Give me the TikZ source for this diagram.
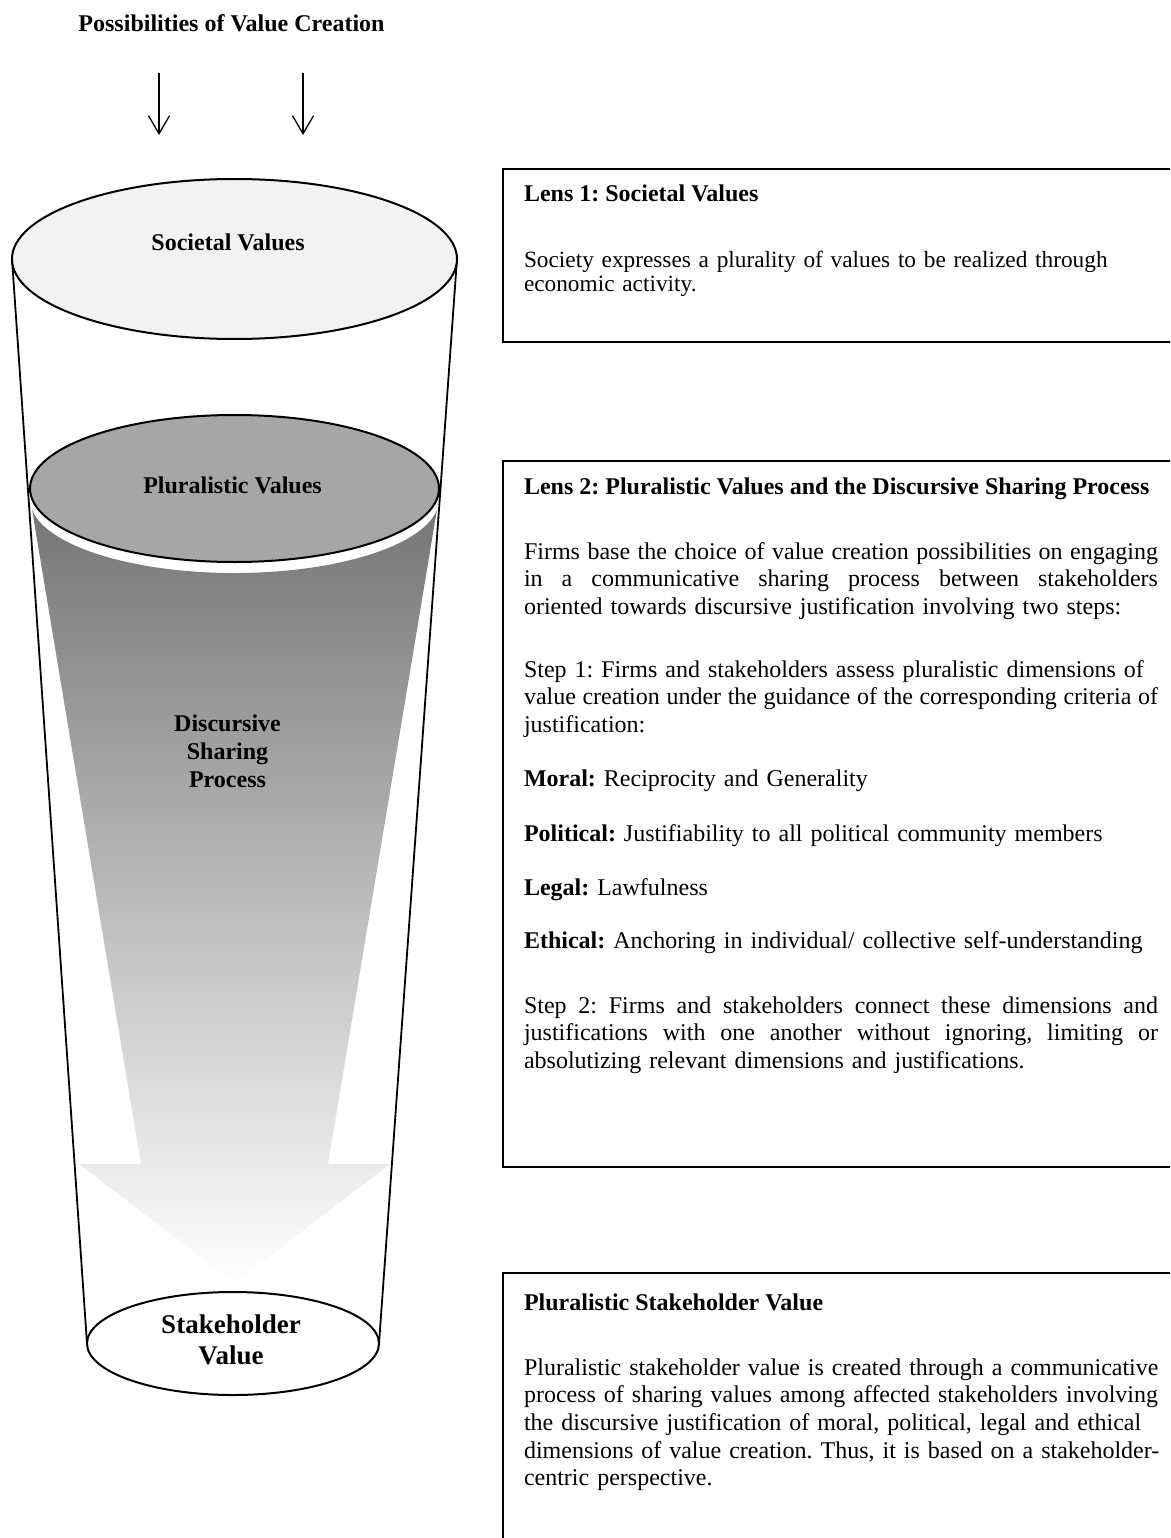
\documentclass[tikz,border=0pt]{standalone}
\usepackage{fontspec}
\setmainfont{Liberation Serif}
\usetikzlibrary{arrows.meta}
\definecolor{capgray}{HTML}{F2F2F2}
\definecolor{midgray}{HTML}{A6A6A6}
\definecolor{deepgray}{HTML}{767676}
% a line stretched (or squeezed) to the full paragraph width
\newcommand\fillline[1]{\makebox[634pt][s]{\spaceskip=0.25em plus 1em minus 0.12em\relax #1}}
\frenchspacing
\begin{document}
\begin{tikzpicture}[x=1pt,y=-1pt,
  every node/.style={inner sep=0pt, outer sep=0pt},
  tag/.style={font=\fontsize{24}{28}\selectfont\bfseries, align=center},
  inflow/.style={line width=1.3pt, -{Straight Barb[length=18pt,width=21pt]}},
  rim/.style={line width=2pt},
  wall/.style={line width=1.8pt},
  lensbox/.style={draw, line width=2pt, rectangle},
  head/.style={anchor=base west, font=\fontsize{24}{27.5}\selectfont\bfseries},
  para/.style={anchor=base west, align=left, text width=700pt, font=\fontsize{24}{27.5}\selectfont},
]
\useasboundingbox (0,0) rectangle (1170,1538);
\clip (0,0) rectangle (1170,1538);

% incoming possibilities
\node[tag] (title) at (231.5,23) {Possibilities of Value Creation};
\coordinate (inA) at (159,73);  \coordinate (outA) at (159,135);
\coordinate (inB) at (303,73);  \coordinate (outB) at (303,135);
\draw[inflow] (inA) -- (outA);
\draw[inflow] (inB) -- (outB);

% walls of the funnel
\coordinate (topL) at (12,259);   \coordinate (topR) at (457,259);
\coordinate (botL) at (87,1343.5); \coordinate (botR) at (379,1343.5);
\draw[wall] (topL) -- (botL);
\draw[wall] (topR) -- (botR);

% shaded downward arrow inside the funnel
\shade[top color=deepgray, bottom color=white]
  (32.1,510) arc[start angle=171.8, end angle=8.2, x radius=204.5, y radius=73.5]
  -- (328,1164) -- (390,1164) -- (234.5,1283) -- (79,1164) -- (141,1164) -- cycle;

% the three discs
\draw[rim, fill=capgray] (234.5,259) ellipse [x radius=222.5, y radius=80];
\draw[rim, fill=midgray] (234.5,488.5) ellipse [x radius=204.5, y radius=73.5];
\draw[rim, fill=white] (233,1343.5) ellipse [x radius=146, y radius=51.5];

\node[tag] (societal) at (228,242) {Societal Values};
\node[tag] (pluralistic) at (232.5,485) {Pluralistic Values};
\node[tag] (discursive) at (227.5,751) {Discursive\\Sharing\\Process};
\node[font=\fontsize{27}{31}\selectfont\bfseries, align=center] (stake) at (231,1339.5) {Stakeholder\\Value};

% lens boxes
\node[lensbox, minimum width=682pt, minimum height=173pt] (lens1) at (844,255.5) {};
\node[lensbox, minimum width=682pt, minimum height=706pt] (lens2) at (844,813.7) {};
\node[lensbox, minimum width=682pt, minimum height=272pt] (lens3) at (844,1409.3) {};

\node[head] (lens1head) at (524,202) {Lens 1: Societal Values};
\node[para, font=\fontsize{23.3}{24.5}\selectfont] (lens1text) at (524,267)
  {Society expresses a plurality of values to be realized through\\economic activity.};

\node[head] (lens2head) at (524,494) {Lens 2: Pluralistic Values and the Discursive Sharing Process};
\node[para] (intro) at (524,559)
  {\fillline{Firms base the choice of value creation possibilities on engaging}\\
   \fillline{in a communicative sharing process between stakeholders}\\
   oriented towards discursive justification involving two steps:};
\node[para] (stepone) at (524,677)
  {Step 1: Firms and stakeholders assess pluralistic dimensions of\\
   \fillline{value creation under the guidance of the corresponding criteria of}\\
   justification:};
\node[para] (moral) at (524,786) {\textbf{Moral:} Reciprocity and Generality};
\node[para] (political) at (524,841) {\textbf{Political:} Justifiability to all political community members};
\node[para] (legal) at (524,895) {\textbf{Legal:} Lawfulness};
\node[para] (ethical) at (524,948) {\textbf{Ethical:} Anchoring in individual/ collective self-understanding};
\node[para] (steptwo) at (524,1013)
  {\fillline{Step 2: Firms and stakeholders connect these dimensions and}\\
   \fillline{justifications with one another without ignoring, limiting or}\\
   absolutizing relevant dimensions and justifications.};

\node[head] (lens3head) at (524,1310) {Pluralistic Stakeholder Value};
\node[para, font=\fontsize{24}{27.7}\selectfont] (lens3text) at (524,1375)
  {Pluralistic stakeholder value is created through a communicative\\
   process of sharing values among affected stakeholders involving\\
   the discursive justification of moral, political, legal and ethical\\
   dimensions of value creation. Thus, it is based on a stakeholder-\\
   centric perspective.};
\end{tikzpicture}
\end{document}
